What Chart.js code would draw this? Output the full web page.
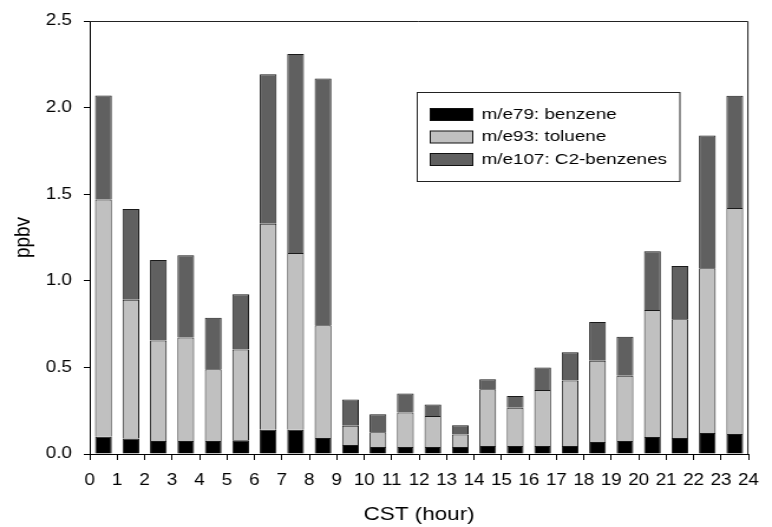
<!DOCTYPE html>
<html>
<head>
<meta charset="utf-8">
<script src="https://cdn.jsdelivr.net/npm/chart.js@4"></script>
<style>
  html, body { margin: 0; padding: 0; background: #fff; overflow: hidden; }
  /* the plot is laid out narrow and widened, so the lettering comes out broad */
  #wrap { width: 654px; height: 527px; transform: scaleX(1.1804); transform-origin: 0 0; }
</style>
</head>
<body>
<div id="wrap"><canvas id="vocs"></canvas></div>
<script>
const hours = [0.5, 1.5, 2.5, 3.5, 4.5, 5.5, 6.5, 7.5, 8.5, 9.5, 10.5, 11.5,
               12.5, 13.5, 14.5, 15.5, 16.5, 17.5, 18.5, 19.5, 20.5, 21.5, 22.5, 23.5];

const benzene = [0.100, 0.090, 0.075, 0.075, 0.075, 0.080, 0.140, 0.140, 0.092, 0.052, 0.040, 0.040,
                 0.040, 0.040, 0.046, 0.046, 0.046, 0.046, 0.069, 0.075, 0.098, 0.092, 0.121, 0.115];
const toluene = [1.370, 0.800, 0.580, 0.597, 0.415, 0.524, 1.190, 1.020, 0.651, 0.111, 0.085, 0.199,
                 0.179, 0.073, 0.328, 0.221, 0.324, 0.379, 0.470, 0.377, 0.733, 0.686, 0.951, 1.306];
const c2benzenes = [0.600, 0.525, 0.465, 0.475, 0.297, 0.318, 0.863, 1.150, 1.425, 0.151, 0.104, 0.111,
                    0.067, 0.053, 0.057, 0.068, 0.129, 0.162, 0.223, 0.225, 0.339, 0.307, 0.767, 0.648];

const seriesLabels = ['m/e79: benzene', 'm/e93: toluene', 'm/e107: C2-benzenes'];

const FONT = '"Liberation Sans", Arial, sans-serif';

// box round the plot: top and right edges (left and bottom come from the axes)
const frame = {
    id: 'frame',
    beforeDatasetsDraw(chart) {
        const { ctx, chartArea: a } = chart;
        ctx.save();
        ctx.strokeStyle = '#222';
        ctx.lineWidth = 1;
        ctx.beginPath();
        ctx.moveTo(a.left, a.top + 0.5);
        ctx.lineTo(a.right - 0.5, a.top + 0.5);
        ctx.lineTo(a.right - 0.5, a.bottom);
        ctx.stroke();
        ctx.restore();
    }
};

// framed legend sitting inside the plot
const legendBox = {
    id: 'legendBox',
    afterDraw(chart) {
        const ctx = chart.ctx;
        ctx.save();
        ctx.lineWidth = 1;
        ctx.strokeStyle = '#222';
        ctx.fillStyle = '#fff';
        ctx.fillRect(353.5, 92.5, 222.5, 89);
        ctx.strokeRect(353.5, 92.5, 222.5, 89);
        ctx.font = '14px ' + FONT;
        ctx.textBaseline = 'middle';
        chart.data.datasets.forEach((ds, i) => {
            const y = 108.5 + i * 22.5;
            ctx.fillStyle = ds.backgroundColor;
            ctx.fillRect(364.5, y, 36, 12);
            ctx.strokeStyle = '#111';
            ctx.strokeRect(364.5, y, 36, 12);
            ctx.save();
            ctx.translate(408, y + 6.5);
            ctx.scale(1.14, 1);
            ctx.fillStyle = '#000';
            ctx.fillText(ds.label, 0, 0);
            ctx.restore();
        });
        ctx.restore();
    }
};

const colors = ['#000000', '#c0c0c0', '#606060'];
const values = [benzene, toluene, c2benzenes];

new Chart(document.getElementById('vocs'), {
    type: 'bar',
    data: {
        datasets: values.map((vals, i) => ({
            label: seriesLabels[i],
            data: vals.map((v, j) => ({ x: hours[j], y: v })),
            backgroundColor: colors[i],
            borderColor: '#1a1a1a',
            borderWidth: 1,
            categoryPercentage: 1,
            barPercentage: 0.61
        }))
    },
    options: {
        responsive: true,
        maintainAspectRatio: false,
        animation: false,
        layout: { padding: { top: 21, right: 9, left: 0, bottom: 0 } },
        plugins: {
            legend: { display: false },
            tooltip: { enabled: false }
        },
        scales: {
            x: {
                type: 'linear',
                stacked: true,
                offset: false,
                min: 0,
                max: 24,
                afterFit: (scale) => { scale.height = 73; },
                grid: { offset: false, drawOnChartArea: false, tickLength: 6, color: '#000' },
                border: { color: '#000', width: 1 },
                ticks: {
                    stepSize: 1,
                    autoSkip: false,
                    maxRotation: 0,
                    padding: 11,
                    color: '#000',
                    font: { family: FONT, size: 16 }
                },
                title: {
                    display: true,
                    text: 'CST (hour)',
                    color: '#000',
                    font: { family: FONT, size: 19 },
                    padding: { top: 0, bottom: 1 }
                }
            },
            y: {
                stacked: true,
                min: 0,
                max: 2.5,
                afterFit: (scale) => { scale.width = 76; },
                grid: { drawOnChartArea: false, tickLength: 5, color: '#000' },
                border: { color: '#000', width: 1 },
                ticks: {
                    stepSize: 0.5,
                    padding: 10,
                    color: '#000',
                    font: { family: FONT, size: 16 },
                    callback: (v) => v.toFixed(1)
                },
                title: {
                    display: true,
                    text: 'ppbv',
                    color: '#000',
                    font: { family: FONT, size: 19 },
                    padding: { top: 8, bottom: 0 }
                }
            }
        }
    },
    plugins: [frame, legendBox]
});
</script>
</body>
</html>
